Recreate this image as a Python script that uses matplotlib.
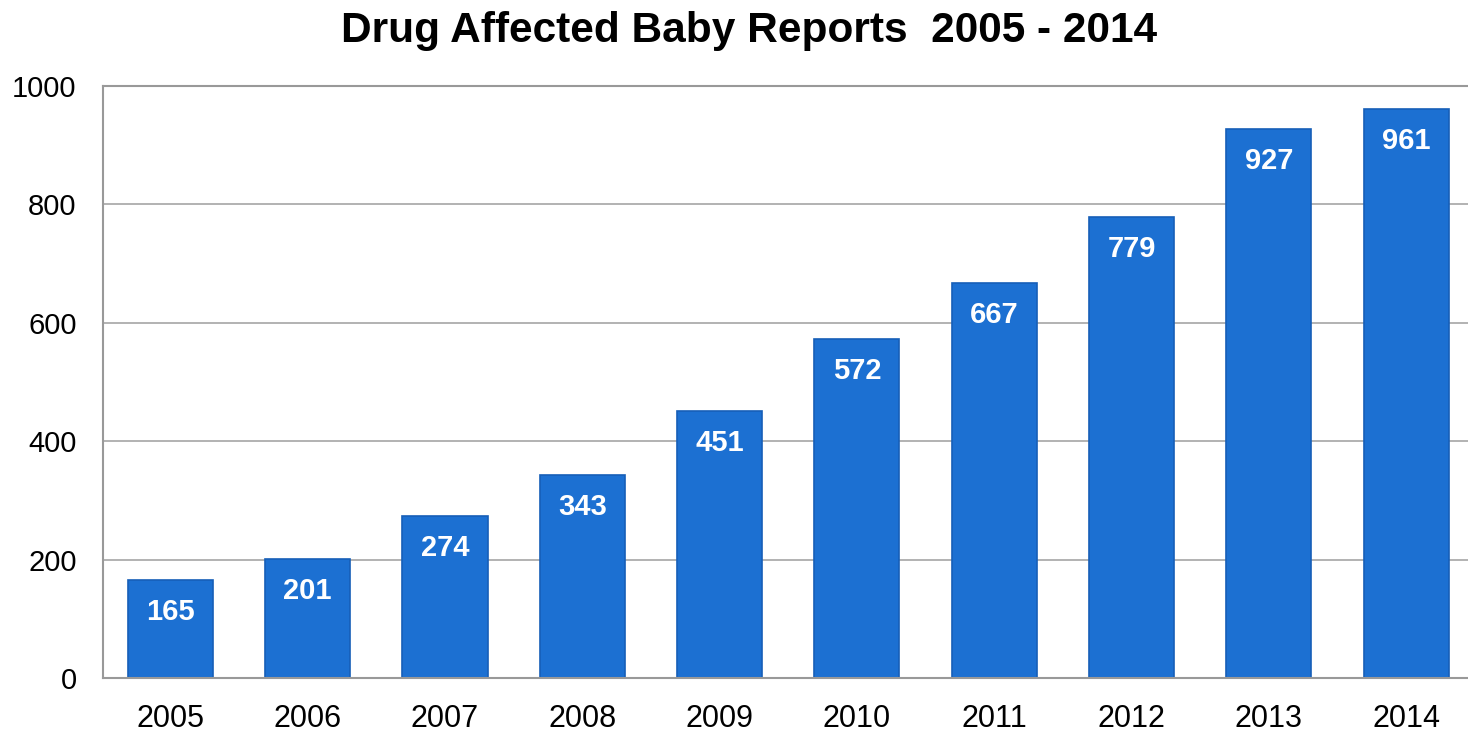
import matplotlib
matplotlib.use('Agg')
from matplotlib import pyplot as plt

YEARS = ['2005', '2006', '2007', '2008', '2009',
         '2010', '2011', '2012', '2013', '2014']
REPORTS = [165, 201, 274, 343, 451, 572, 667, 779, 927, 961]
Y_TICKS = [0, 200, 400, 600, 800, 1000]

BAR_COLOR = '#1c70d2'
EDGE_COLOR = '#165fb8'
GRID_COLOR = '#a6a6a6'

plt.rcParams['font.family'] = ['Liberation Sans', 'DejaVu Sans']

W, H = 1468, 732
fig = plt.figure(figsize=(W / 100, H / 100), dpi=100)
left, right, top, bottom = 103, 1468, 86, 678
ax = fig.add_axes([left / W, 1 - bottom / H, (right - left) / W, (bottom - top) / H])

x = range(len(YEARS))
ax.bar(x, REPORTS, width=0.62, color=BAR_COLOR, edgecolor=EDGE_COLOR,
       linewidth=1.2, zorder=2)
for i, v in zip(x, REPORTS):
    ax.annotate(str(v), xy=(i, v), xytext=(0, -23), textcoords='offset points',
                ha='center', va='center', color='white', fontsize=21,
                fontweight='bold', zorder=3)

ax.set_xlim(-0.49, 9.45)
ax.set_ylim(0, 1000)
ax.set_xticks(list(x))
ax.set_xticklabels(YEARS, fontsize=22)
ax.set_yticks(Y_TICKS)
ax.set_yticklabels([str(t) for t in Y_TICKS], fontsize=21)
ax.tick_params(axis='x', length=0, pad=19)
ax.tick_params(axis='y', length=0, pad=19)
ax.yaxis.grid(True, color=GRID_COLOR, linewidth=1.2, zorder=0)
ax.set_axisbelow(True)
for side in ('top', 'right'):
    ax.spines[side].set_visible(False)
for side in ('left', 'bottom'):
    ax.spines[side].set_color('#999999')
    ax.spines[side].set_linewidth(1.5)
# top border line of the plot area
ax.axhline(1000, color='#999999', linewidth=1.5, zorder=1, clip_on=False)

fig.text(749 / W, 1 - 31 / H, 'Drug Affected Baby Reports  2005 - 2014',
         ha='center', va='center', fontsize=30.5, fontweight='bold')

fig.savefig('out.png', dpi=100)
